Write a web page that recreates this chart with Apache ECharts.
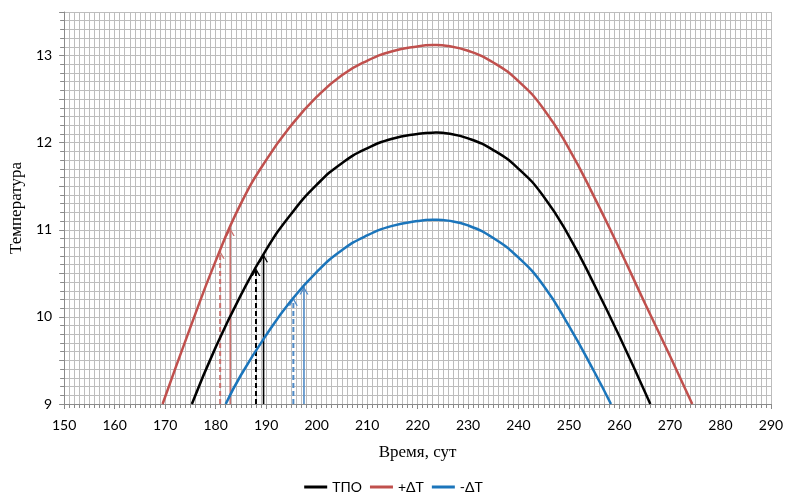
<!DOCTYPE html>
<html>
<head>
<meta charset="utf-8">
<script src="https://cdn.jsdelivr.net/npm/echarts@6/dist/echarts.min.js"></script>
<style>
  html, body { margin: 0; padding: 0; background: #fff; }
  #chart { width: 787px; height: 495px; }
</style>
</head>
<body>
<div id="chart"></div>
<script>
// Temperature curves over time (days)
const tpoDays   = [175.3, 180, 185, 190, 195, 200, 205, 210, 215, 220, 223, 226, 230, 235, 240, 245, 250, 255, 260, 266.1];
const tpoValues = [9.00, 9.65, 10.25, 10.77, 11.185, 11.515, 11.765, 11.935, 12.045, 12.10, 12.115, 12.105, 12.05, 11.915, 11.70, 11.38, 10.925, 10.37, 9.775, 9.00];

const plusDays   = [169.5, 175, 180, 185, 190, 195, 200, 205, 210, 215, 220, 223, 226, 230, 235, 240, 245, 250, 255, 260, 265, 270, 274.4];
const plusValues = [9.00, 9.88, 10.64, 11.30, 11.80, 12.20, 12.525, 12.775, 12.94, 13.05, 13.105, 13.12, 13.11, 13.055, 12.92, 12.705, 12.385, 11.93, 11.375, 10.78, 10.16, 9.55, 9.00];

const minusDays   = [182, 185, 190, 195, 200, 205, 210, 215, 220, 223, 226, 230, 235, 240, 245, 250, 255, 258.3];
const minusValues = [9.00, 9.33, 9.79, 10.19, 10.515, 10.765, 10.935, 11.045, 11.10, 11.115, 11.105, 11.05, 10.905, 10.68, 10.355, 9.895, 9.37, 9.00];

// Vertical arrows rising from the axis to each curve
const arrowDays   = [180.9, 182.9, 188.0, 189.5, 195.4, 197.5];
const arrowTops   = [10.76, 11.02, 10.56, 10.72, 10.22, 10.35];
const arrowDashed = [true, false, true, false, true, false];
const arrowColors = ['#c9716e', '#c9716e', '#000000', '#000000', '#4f8ac6', '#4f8ac6'];

const seriesNames  = ['ТПО', '+ΔТ', '-ΔТ'];
const seriesColors = ['#000000', '#c0504d', '#1b75bb'];

const xTicks = { min: 150, max: 290, step: 10 };
const yTicks = { min: 9, max: 13.5, step: 0.5 };

function pairs(xs, ys) { return xs.map((x, i) => [x, ys[i]]); }

const chevron = 'path://M0,9 L5,0 L10,9 L8.4,9 L5,2.8 L1.6,9 Z';

const gridColor = '#bdbdbd';
const axisColor = '#8a8a8a';
const sansFont = 'Lato, "Open Sans", sans-serif';
const serifFont = '"Liberation Serif", "DejaVu Serif", serif';

// Each curve is a smooth spline through its points, placed with the axes' own scales
const curveSeries = [
  [tpoDays, tpoValues],
  [plusDays, plusValues],
  [minusDays, minusValues]
].map(([xs, ys], i) => {
  const pts = pairs(xs, ys);
  return {
    name: seriesNames[i],
    type: 'custom',
    coordinateSystem: 'cartesian2d',
    data: pts,
    encode: { x: 0, y: 1 },
    itemStyle: { color: seriesColors[i] },
    z: 3,
    renderItem: (params, api) => {
      if (params.dataIndex !== 0) return null;
      return {
        type: 'polyline',
        shape: { points: pts.map(p => api.coord(p)), smooth: 0.5 },
        style: { stroke: seriesColors[i], lineWidth: 2.5, fill: null },
        silent: true
      };
    }
  };
});

const arrowSeries = arrowDays.map((x, i) => ({
  type: 'line',
  silent: true,
  data: [
    { value: [x, 9], symbol: 'none' },
    { value: [x, arrowTops[i]], symbol: chevron, symbolSize: [9, 8], symbolOffset: [0, '50%'] }
  ],
  showSymbol: true,
  lineStyle: { color: arrowColors[i], width: arrowDashed[i] ? 2 : 1.6, type: arrowDashed[i] ? [5, 3] : 'solid' },
  itemStyle: { color: arrowColors[i] },
  z: 2
}));

const chart = echarts.init(document.getElementById('chart'), null, { renderer: 'canvas' });
chart.setOption({
  backgroundColor: '#ffffff',
  animation: false,
  grid: { left: 64, right: 16, top: 12, bottom: 91, containLabel: false },
  legend: {
    data: seriesNames.map((n, i) => ({ name: n, icon: 'rect', itemStyle: { color: seriesColors[i] } })),
    top: 475,
    left: 'center',
    itemWidth: 23,
    itemHeight: 3,
    itemGap: 8,
    textStyle: { fontFamily: sansFont, fontSize: 14, color: '#000' }
  },
  xAxis: {
    type: 'value',
    min: xTicks.min,
    max: xTicks.max,
    interval: xTicks.step,
    name: 'Время, сут',
    nameLocation: 'middle',
    nameGap: 40,
    nameTextStyle: { fontFamily: serifFont, fontSize: 17, color: '#000' },
    axisLine: { show: true, onZero: false, lineStyle: { color: axisColor, width: 1 } },
    axisTick: { show: true, length: 5, lineStyle: { color: axisColor } },
    minorTick: { show: true, splitNumber: 10, length: 4, lineStyle: { color: axisColor } },
    axisLabel: { fontFamily: sansFont, fontSize: 14, color: '#000', margin: 14 },
    splitLine: { show: true, lineStyle: { color: gridColor, width: 1 } },
    minorSplitLine: { show: true, lineStyle: { color: gridColor, width: 1 } }
  },
  yAxis: {
    type: 'value',
    min: yTicks.min,
    max: yTicks.max,
    interval: yTicks.step,
    name: 'Температура',
    nameLocation: 'middle',
    nameRotate: 90,
    nameGap: 38,
    nameTextStyle: { fontFamily: serifFont, fontSize: 17, color: '#000' },
    axisLine: { show: true, lineStyle: { color: axisColor, width: 1 } },
    axisTick: { show: true, length: 5, lineStyle: { color: axisColor } },
    minorTick: { show: true, splitNumber: 5, length: 4, lineStyle: { color: axisColor } },
    axisLabel: {
      fontFamily: sansFont, fontSize: 14, color: '#000', margin: 12,
      formatter: v => (Math.abs(v - Math.round(v)) < 1e-6 ? String(Math.round(v)) : '')
    },
    splitLine: { show: true, lineStyle: { color: gridColor, width: 1 } },
    minorSplitLine: { show: true, lineStyle: { color: gridColor, width: 1 } }
  },
  series: curveSeries.concat(arrowSeries)
});
</script>
</body>
</html>
